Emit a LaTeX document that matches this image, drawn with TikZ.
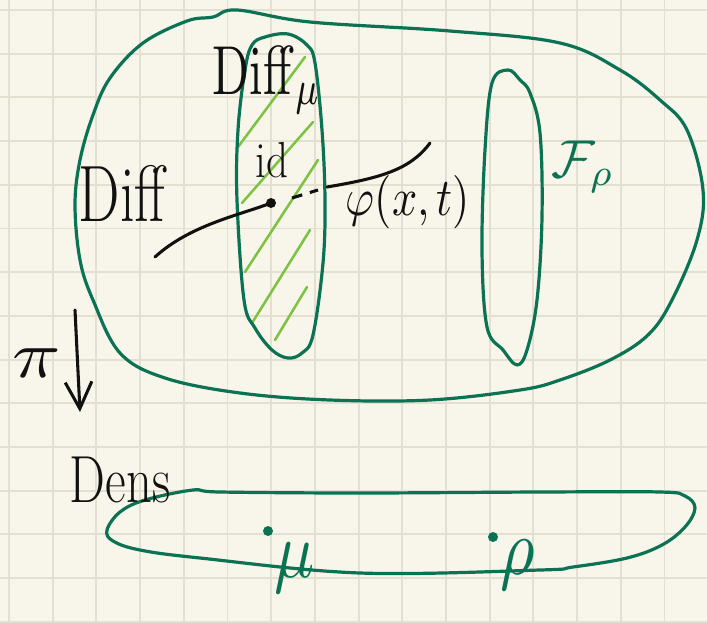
\documentclass[tikz,border=0pt]{standalone}
\usetikzlibrary{arrows.meta}
\definecolor{paper}{HTML}{F8F6EA}
\definecolor{gridc}{HTML}{E3E0D2}
\definecolor{dkgreen}{HTML}{0B7354}
\definecolor{ltgreen}{HTML}{7DC243}
\definecolor{ink}{HTML}{111111}
\newcommand{\fs}[1]{\fontsize{#1}{#1}\selectfont}
\begin{document}
\begin{tikzpicture}[x=0.75pt,y=-0.75pt,
  gridline/.style={gridc,line width=1.4pt},
  gline/.style={dkgreen,line width=2.4pt,line join=round},
  hatch/.style={ltgreen,line width=1.9pt,line cap=round},
  curve/.style={ink,line width=2.3pt,line cap=round},
  hw/.style={ink,inner sep=0pt},
  gw/.style={dkgreen,inner sep=0pt},
  dot/.style={circle,fill=ink,inner sep=0pt,minimum size=7.5pt},
  gdot/.style={circle,fill=dkgreen,inner sep=0pt,minimum size=7.5pt}]
\fill[paper] (0,0) rectangle (707,622);
\useasboundingbox (0,0) rectangle (707,622);
\foreach \k in {0,...,15} \draw[gridline] ({9+43.7*\k},0) -- ({9+43.7*\k},622);
\foreach \k in {0,...,14} \draw[gridline] (0,{10+43.7*\k}) -- (707,{10+43.7*\k});

% outer region
\draw[gline] plot[smooth cycle,tension=0.6] coordinates {
 (75,205) (80,160) (93,115) (110,78) (143,43) (187,21) (213,17) (237,10)
 (310,22) (450,31) (560,43) (620,70) (660,100) (687,130) (703,190) (697,240)
 (672,300) (648,335) (610,360) (560,380) (520,390) (430,400) (330,400)
 (240,393) (165,378) (120,353) (93,300) (80,260)};

% hatching
\draw[hatch] (238,147) -- (305,57);
\draw[hatch] (242,203) -- (313,122);
\draw[hatch] (245,272) -- (318,160);
\draw[hatch] (252,323) -- (310,230);
\draw[hatch] (275,340) -- (307,287);

% Diff_mu fibre
\draw[gline] plot[smooth cycle,tension=0.6] coordinates {
 (288,34) (307,45) (315,63) (322,130) (325,200) (323,263) (313,335) (302,353)
 (288,358) (272,350) (255,328) (244,300) (237,200) (238,130) (245,70) (252,45) (265,37)};

% F_rho fibre
\draw[gline] plot[smooth cycle,tension=0.6] coordinates {
 (508,70) (520,80) (530,93) (540,133) (542,217) (537,300) (527,350) (517,365)
 (503,350) (487,327) (482,250) (485,150) (492,83)};

% Dens
\draw[gline] plot[smooth cycle,tension=0.6] coordinates {
 (107,530) (120,512) (145,500) (193,490) (220,492) (360,493) (540,492)
 (660,492) (685,496) (695,508) (685,527) (662,545) (627,558) (573,567)
 (540,570) (360,573) (200,558) (140,550) (113,541)};

% texts
\node[hw,font=\fs{60}] (diff) at (122,193) {\scalebox{0.73}[1]{Diff}};
\node[hw] (diffmu) at (267,80) {\scalebox{3.64}[5.2]{$\mathrm{Diff}_\mu$}};
\node[hw,font=\fs{38}] (idl) at (272,160) {\scalebox{0.85}[1]{id}};
\node[hw] (phi) at (408,202) {\scalebox{3.32}[4]{$\varphi(x,t)$}};
\node[gw] (frho) at (583,167) {\scalebox{4}{$\mathcal{F}_\rho$}};
\node[hw] (pi) at (37,363) {\scalebox{6}[5]{$\pi$}};
\node[hw,font=\fs{50}] (dens) at (120,480) {\scalebox{0.76}[1]{Dens}};
\node[gw] (mul) at (295,568) {\scalebox{5}[6]{$\mu$}};
\node[gw] (rhol) at (518,565) {\scalebox{5}[6]{$\rho$}};

% points
\node[dot] (id0) at (271,203) {};
\node[gdot] (mu0) at (268,531) {};
\node[gdot] (rho0) at (493,537) {};

% path through id
\coordinate (c1) at (155,257);
\coordinate (c2) at (292,198);
\coordinate (c3) at (318,190);
\coordinate (c4) at (327,187);
\coordinate (c5) at (430,143);
\draw[curve] (c1) .. controls (190,225) and (240,215) .. (id0.center);
\draw[curve,line cap=butt,dash pattern=on 8pt off 6pt] (c2) -- (c3);
\draw[curve] (c4) .. controls (380,178) and (410,170) .. (c5);

% projection arrow
\coordinate (pa) at (75,310);
\coordinate (pb) at (80,412);
\draw[curve,-{Straight Barb[length=20pt,width=20pt]}] (pa) -- (pb);
\end{tikzpicture}
\end{document}
